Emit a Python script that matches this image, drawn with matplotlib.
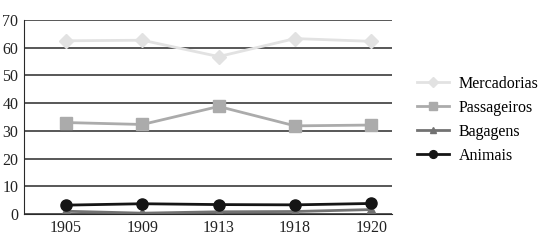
import matplotlib.pyplot as plt
import numpy as np

plt.rcParams['font.family'] = ['Liberation Serif', 'DejaVu Serif']

years = ['1905', '1909', '1913', '1918', '1920']
mercadorias = [62.5, 62.7, 56.8, 63.3, 62.3]
passageiros = [33.0, 32.3, 38.8, 31.8, 32.1]
bagagens = [1.0, 0.3, 0.8, 0.9, 1.6]
animais = [3.2, 3.7, 3.4, 3.3, 3.8]

fig = plt.figure(figsize=(5.46, 2.44), dpi=100)
ax = fig.add_axes([24/546, 1-214/244, 368/546, 194/244])

x = np.arange(len(years))
ax.plot(x, mercadorias, color='#e2e2e2', marker='D', ms=7, lw=2, label='Mercadorias')
ax.plot(x, passageiros, color='#ababab', marker='s', ms=8, lw=2, label='Passageiros')
ax.plot(x, bagagens, color='#727272', marker='^', ms=7, lw=2, label='Bagagens')
ax.plot(x, animais, color='#151515', marker='o', ms=8, lw=2, label='Animais')

ax.set_ylim(0, 70)
ax.set_yticks(range(0, 71, 10))
ax.set_xlim(-0.55, 4.27)
ax.set_xticks(x)
ax.set_xticklabels(years)
ax.yaxis.grid(True, color='#2a2a2a', lw=1.1)
ax.set_axisbelow(True)
for s in ['top', 'right']:
    ax.spines[s].set_visible(False)
ax.spines['left'].set_color('#2a2a2a')
ax.spines['bottom'].set_color('#2a2a2a')
ax.tick_params(length=0, labelsize=11.5, colors='#222222', pad=4)

fig.legend(loc='center left', bbox_to_anchor=(403/546, 1-120/244), frameon=False,
           fontsize=11.5, handlelength=2.0, handletextpad=0.6, labelspacing=0.5,
           markerscale=0.7)

fig.savefig('out.png', dpi=100)
